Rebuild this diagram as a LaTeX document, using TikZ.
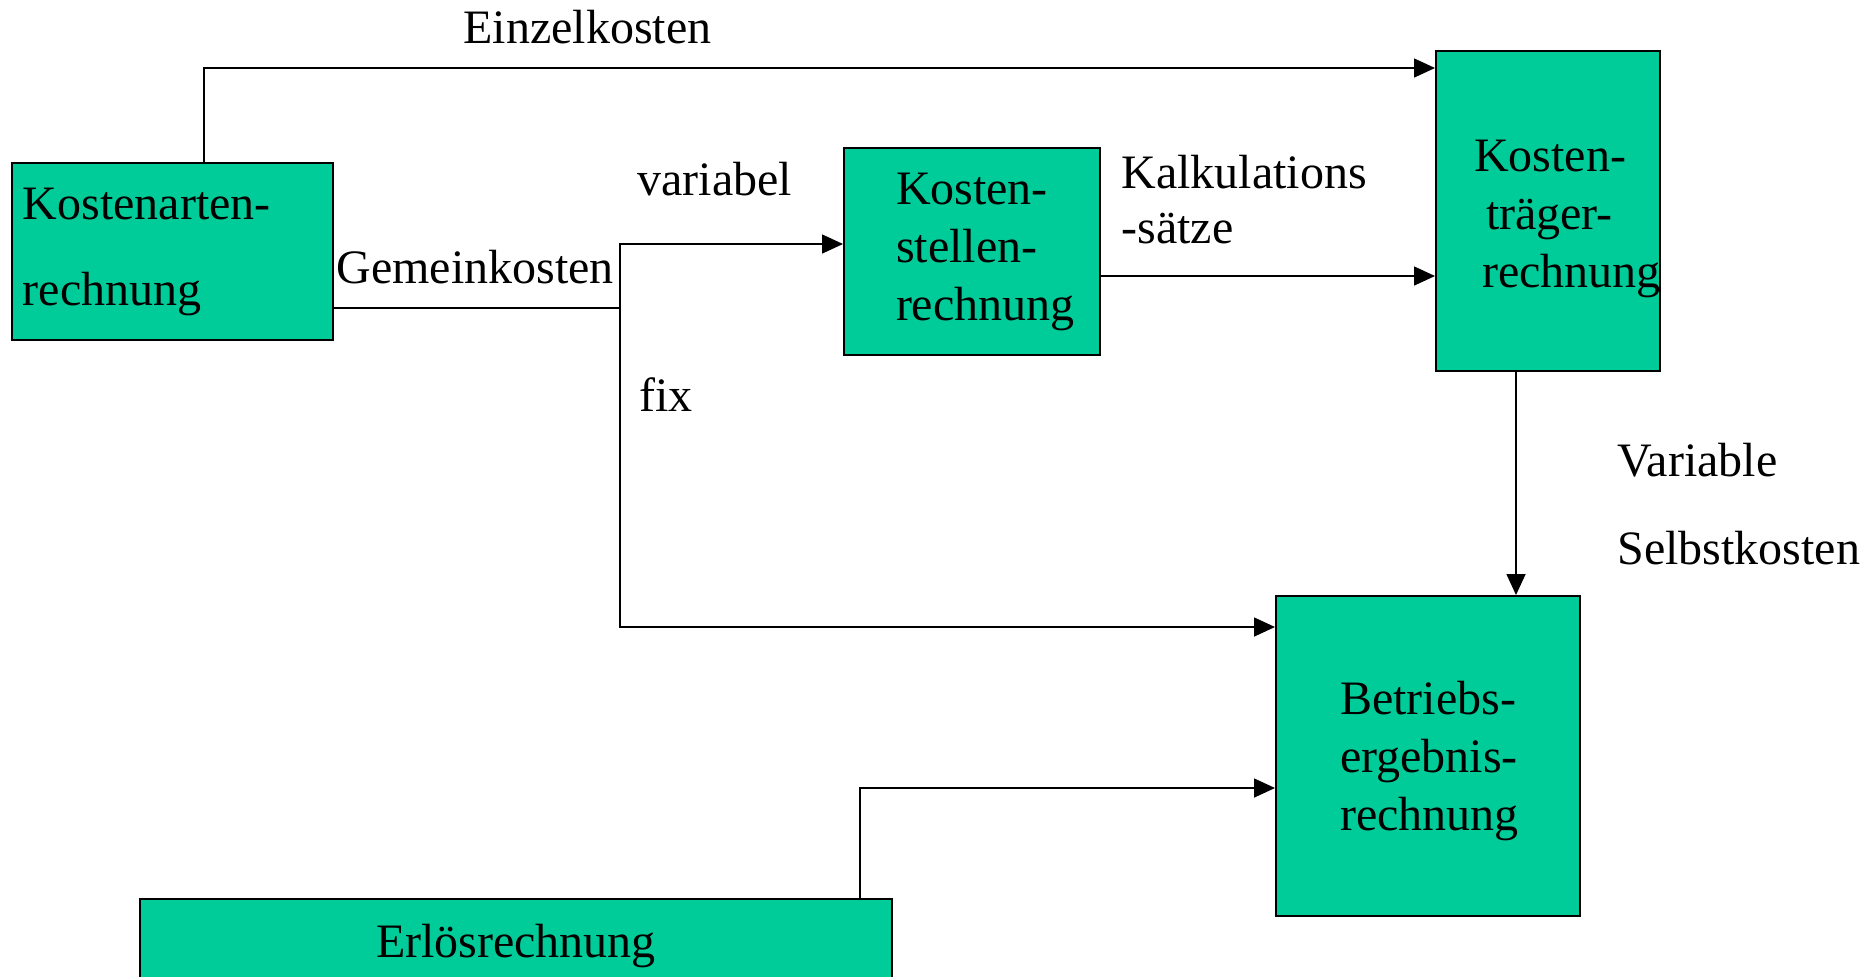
\documentclass[tikz,border=0pt]{standalone}
\usepackage{fontspec}
\setmainfont{Liberation Serif}
\usetikzlibrary{arrows.meta}
\definecolor{kostengruen}{RGB}{0,204,153}
\hyphenpenalty=10000
\exhyphenpenalty=10000

\begin{document}
\begin{tikzpicture}[x=0.5pt, y=-0.5pt,
    font=\fontsize{24pt}{29pt}\selectfont,
    box/.style={draw, line width=1pt, fill=kostengruen, align=left, inner ysep=0pt},
    pfeil/.style={-{Triangle[length=10.5pt, width=9.5pt]}, line width=0.8pt},
    linie/.style={line width=0.8pt},
    beschriftung/.style={anchor=base west, inner sep=0pt}]
  \useasboundingbox (0,0) rectangle (1873,976);

  \node[box, minimum width=160.5pt, minimum height=88.5pt, inner xsep=5.5pt, text width=149.5pt] (kostenarten) at (172.5,251.5) {Kostenarten-\\[14pt]rechnung};
  \node[box, minimum width=128pt, minimum height=103.5pt, inner xsep=26pt, text width=76pt] (kostenstellen) at (972,251.5) {Kosten-\\stellen-\\rechnung};
  \node[box, minimum width=112pt, minimum height=160pt, inner xsep=19pt, text width=74pt] (kostentraeger) at (1548,211) {\rule{0pt}{24pt}Kosten-\\\hspace*{6pt}träger-\\\hspace*{4pt}rechnung};
  \node[box, minimum width=152pt, minimum height=160pt, inner xsep=32pt, text width=88pt] (betrieb) at (1428,756) {\rule{0pt}{22pt}Betriebs-\\ergebnis-\\rechnung};
  \node[box, align=center, minimum width=376pt, minimum height=47pt] (erloes) at (516,946) {Erlösrechnung};

  \node[beschriftung] (einzel) at (463,43) {Einzelkosten};
  \node[beschriftung] (variabel) at (637,195) {variabel};
  \node[beschriftung] (gemein) at (336,283) {Gemeinkosten};
  \node[beschriftung] (fix) at (639,411) {fix};
  \node[beschriftung, align=left] (kalk) at (1121,243) {Kalkulations\\[-1.5pt]-sätze};
  \node[beschriftung, align=left] (selbst) at (1617,564) {Variable\\[15pt]Selbstkosten};

  \coordinate (einzelpkt) at (204,68);
  \coordinate (verzweig) at (620,308);
  \coordinate (varpkt) at (620,244);
  \coordinate (fixpkt) at (620,627);
  \coordinate (kalkpkt) at (1100,276);
  \coordinate (selbstpkt) at (1516,372);
  \coordinate (erloespkt) at (860,788);

  \draw[pfeil] (kostenarten.north -| einzelpkt) |- (kostentraeger.west |- einzelpkt);
  \draw[linie] (kostenarten.east |- verzweig) -- (verzweig);
  \draw[pfeil] (verzweig) |- (kostenstellen.west |- varpkt);
  \draw[pfeil] (verzweig) |- (betrieb.west |- fixpkt);
  \draw[pfeil] (kostenstellen.east |- kalkpkt) -- (kostentraeger.west |- kalkpkt);
  \draw[pfeil] (kostentraeger.south -| selbstpkt) -- (betrieb.north -| selbstpkt);
  \draw[pfeil] (erloes.north -| erloespkt) |- (betrieb.west |- erloespkt);
\end{tikzpicture}
\end{document}
